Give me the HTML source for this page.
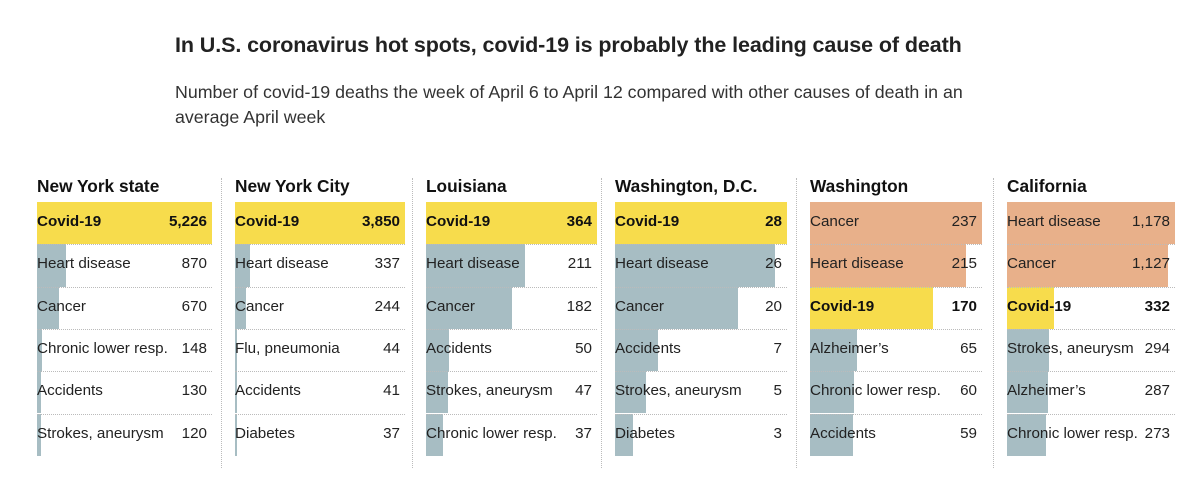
<!DOCTYPE html>
<html><head><meta charset="utf-8">
<style>
body{margin:0;width:1200px;height:486px;background:#fff;font-family:"Liberation Sans",sans-serif;color:#222;overflow:hidden;position:relative}
#title{position:absolute;left:175px;top:33px;font-size:21.5px;font-weight:bold;color:#222;white-space:nowrap;letter-spacing:-0.1px}
#sub{position:absolute;left:175px;top:80px;font-size:17.8px;line-height:25px;color:#333;width:815px}
.hdr{position:absolute;font-weight:bold;font-size:17.3px;color:#111;white-space:nowrap}
.bar{position:absolute}
.lbl{position:absolute;font-size:15.2px;color:#222;white-space:nowrap}
.val{position:absolute;font-size:15.2px;color:#222;text-align:right;white-space:nowrap}
.b{font-weight:bold;color:#111}
.sep{position:absolute;height:0;border-top:1px dotted #bbb}
.div{position:absolute;top:178px;height:290px;width:0;border-left:1px dotted #bbb}
</style></head><body>
<div id="title">In U.S. coronavirus hot spots, covid-19 is probably the leading cause of death</div>
<div id="sub">Number of covid-19 deaths the week of April 6 to April 12 compared with other causes of death in an average April week</div>
<div id="root"></div>
<script>
const regions=["New York state","New York City","Louisiana","Washington, D.C.","Washington","California"];
const causes=[
["Covid-19","Heart disease","Cancer","Chronic lower resp.","Accidents","Strokes, aneurysm"],
["Covid-19","Heart disease","Cancer","Flu, pneumonia","Accidents","Diabetes"],
["Covid-19","Heart disease","Cancer","Accidents","Strokes, aneurysm","Chronic lower resp."],
["Covid-19","Heart disease","Cancer","Accidents","Strokes, aneurysm","Diabetes"],
["Cancer","Heart disease","Covid-19","Alzheimer’s","Chronic lower resp.","Accidents"],
["Heart disease","Cancer","Covid-19","Strokes, aneurysm","Alzheimer’s","Chronic lower resp."]];
const deaths=[
[5226,870,670,148,130,120],
[3850,337,244,44,41,37],
[364,211,182,50,47,37],
[28,26,20,7,5,3],
[237,215,170,65,60,59],
[1178,1127,332,294,287,273]];
const panelX=[37,235,426,615,810,1007];
const panelWs=[175,170,171,172,172,168];
const top0=202, rowH=42.3;
const root=document.getElementById('root');
function xs(v,max,w){return v/max*w;}
function fmt(v){return v.toLocaleString('en-US');}
regions.forEach((r,p)=>{
  const x0=panelX[p], panelW=panelWs[p];
  const h=document.createElement('div');h.className='hdr';
  
  
  h.style.left=x0+'px';h.style.top='176px';h.textContent=r;root.appendChild(h);
  if(p>0){const d=document.createElement('div');d.className='div';
  
  
  d.style.left=(x0-14)+'px';root.appendChild(d);}
  const max=Math.max(...deaths[p]);
  causes[p].forEach((c,i)=>{
    const v=deaths[p][i], y=top0+i*rowH, cov=c==="Covid-19";
    const b=document.createElement('div');b.className='bar';
    
    
    const above=deaths[p][causes[p].indexOf("Covid-19")];
    b.style.background=cov?'#f7dc4c':(v>above?'#e8b08a':'#a7bdc3');
    b.style.left=x0+'px';b.style.top=y+'px';b.style.height=rowH+'px';
    b.style.width=xs(v,max,panelW)+'px';root.appendChild(b);
    const l=document.createElement('div');l.className='lbl'+(cov?' b':'');
    
    
    l.style.left=x0+'px';l.style.top=(y+11)+'px';l.textContent=c;root.appendChild(l);
    const t=document.createElement('div');t.className='val'+(cov?' b':'');
    
    
    t.style.left=(x0+panelW-80-5)+'px';t.style.width='80px';t.style.top=(y+11)+'px';t.textContent=fmt(v);root.appendChild(t);
    if(i>0){const s=document.createElement('div');s.className='sep';
    
    
    s.style.left=x0+'px';s.style.width=panelW+'px';s.style.top=y+'px';root.appendChild(s);}
  });
});
</script>
</body></html>
